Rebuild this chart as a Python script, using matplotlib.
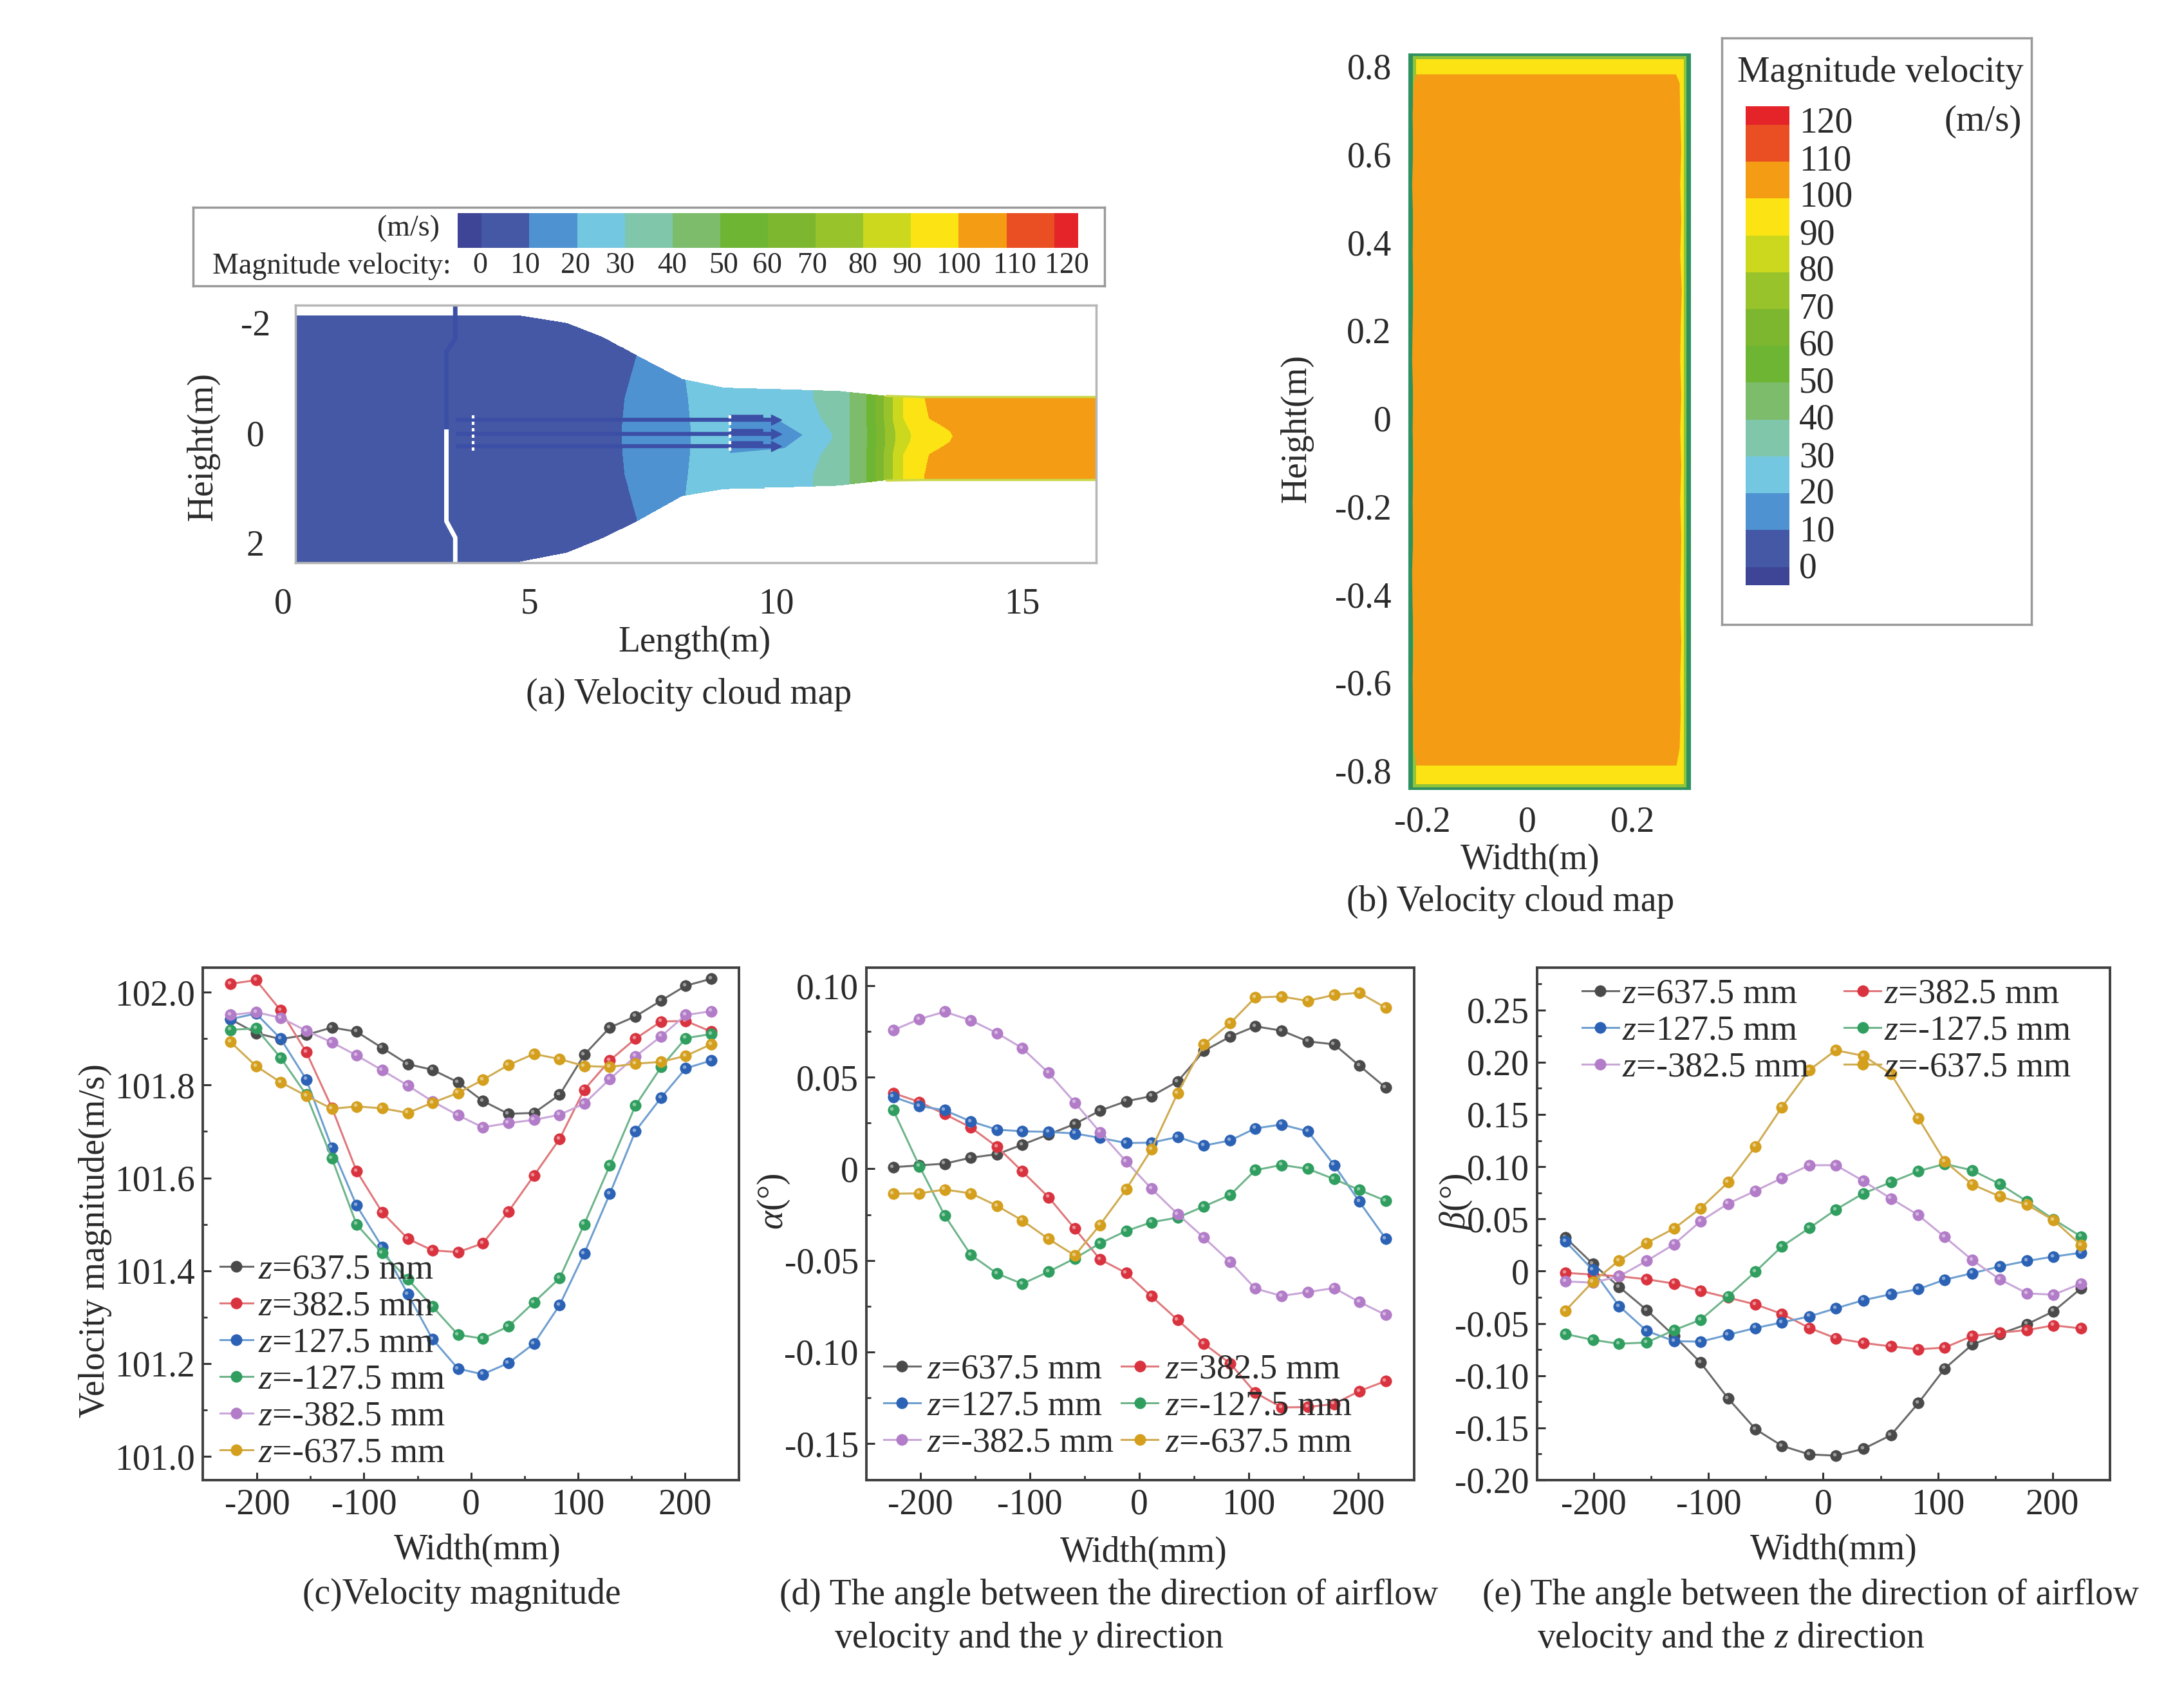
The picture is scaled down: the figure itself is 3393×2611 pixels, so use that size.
import numpy as np
import matplotlib
matplotlib.use('Agg')
import matplotlib.pyplot as plt
import matplotlib.transforms as mtransforms
from matplotlib.colors import ListedColormap

W, H = 3393, 2611
S = W / 1560.0  # layout below was measured on a 1560 wide view

plt.rcParams['font.family'] = ['Liberation Serif', 'DejaVu Serif']
plt.rcParams['mathtext.fontset'] = 'custom'
plt.rcParams['mathtext.rm'] = 'Liberation Serif'
plt.rcParams['mathtext.it'] = 'Liberation Serif:italic'
plt.rcParams['axes.unicode_minus'] = False
TXT = '#2a2a2a'
FS = 40

# ---- data ----
width_mm = [-225, -201, -178, -154, -130, -107, -83, -59, -36, -12,
            11, 35, 59, 83, 106, 130, 154, 178, 201, 225]
z_labels = [r'$\mathit{z}$=637.5 mm', r'$\mathit{z}$=382.5 mm', r'$\mathit{z}$=127.5 mm',
            r'$\mathit{z}$=-127.5 mm', r'$\mathit{z}$=-382.5 mm', r'$\mathit{z}$=-637.5 mm']
line_colors = ['#6b6b6b', '#e0787c', '#6f9fd0', '#6fb58c', '#c9a6d8', '#d0ac52']
dot_colors = ['#4a4a4a', '#d9333f', '#2b62b5', '#2f9e5f', '#b27cc8', '#d49f1c']

vel_z637 = [101.942, 101.912, 101.899, 101.908, 101.924, 101.915, 101.880, 101.845, 101.833, 101.806,
            101.766, 101.738, 101.740, 101.779, 101.865, 101.924, 101.948, 101.982, 102.014, 102.029]
vel_z382 = [102.018, 102.026, 101.961, 101.871, 101.751, 101.615, 101.526, 101.469, 101.444, 101.440,
            101.459, 101.527, 101.605, 101.684, 101.790, 101.853, 101.900, 101.937, 101.938, 101.915]
vel_z127 = [101.942, 101.954, 101.900, 101.812, 101.665, 101.541, 101.451, 101.350, 101.253, 101.189,
            101.177, 101.201, 101.243, 101.326, 101.437, 101.566, 101.701, 101.773, 101.836, 101.853]
vel_zm127 = [101.919, 101.922, 101.859, 101.779, 101.642, 101.500, 101.438, 101.382, 101.323, 101.262,
             101.254, 101.280, 101.332, 101.384, 101.500, 101.627, 101.756, 101.839, 101.901, 101.910]
vel_zm382 = [101.951, 101.957, 101.945, 101.917, 101.892, 101.864, 101.832, 101.799, 101.765, 101.735,
             101.709, 101.718, 101.725, 101.736, 101.760, 101.813, 101.862, 101.905, 101.951, 101.959]
vel_zm637 = [101.893, 101.841, 101.806, 101.777, 101.749, 101.754, 101.750, 101.740, 101.762, 101.783,
             101.811, 101.843, 101.867, 101.856, 101.841, 101.839, 101.846, 101.850, 101.863, 101.888]

alpha_z637 = [0.0009, 0.0019, 0.0028, 0.0061, 0.0080, 0.0132, 0.0188, 0.0245, 0.0318, 0.0369,
              0.0397, 0.0477, 0.0644, 0.0722, 0.0778, 0.0755, 0.0696, 0.0680, 0.0564, 0.0444]
alpha_z382 = [0.0414, 0.0365, 0.0299, 0.0226, 0.0120, -0.0014, -0.0155, -0.0327, -0.0494, -0.0569,
              -0.0696, -0.0825, -0.0955, -0.1063, -0.1223, -0.1303, -0.1301, -0.1284, -0.1214, -0.1159]
alpha_z127 = [0.0393, 0.0343, 0.0320, 0.0259, 0.0214, 0.0205, 0.0202, 0.0193, 0.0169, 0.0141,
              0.0143, 0.0174, 0.0127, 0.0155, 0.0221, 0.0242, 0.0205, 0.0021, -0.0179, -0.0381]
alpha_zm127 = [0.0322, 0.0014, -0.0254, -0.0470, -0.0572, -0.0628, -0.0562, -0.0489, -0.0407, -0.0339,
               -0.0292, -0.0266, -0.0205, -0.0143, -0.0007, 0.0021, 0.0, -0.0056, -0.0115, -0.0174]
alpha_zm382 = [0.0757, 0.0818, 0.0858, 0.0811, 0.0741, 0.0659, 0.0524, 0.0362, 0.0200, 0.0040,
               -0.0108, -0.0247, -0.0376, -0.0508, -0.0654, -0.0694, -0.0673, -0.0651, -0.0727, -0.0797]
alpha_zm637 = [-0.0136, -0.0134, -0.0113, -0.0134, -0.0202, -0.0282, -0.0383, -0.0473, -0.0306, -0.0111,
               0.0106, 0.0414, 0.0680, 0.0795, 0.0936, 0.0941, 0.0917, 0.0950, 0.0962, 0.0880]

beta_z637 = [0.0323, 0.0070, -0.0151, -0.0372, -0.0621, -0.0875, -0.1218, -0.1513, -0.1672, -0.1754,
             -0.1766, -0.1701, -0.1570, -0.1263, -0.0932, -0.0703, -0.0601, -0.0507, -0.0384, -0.0164]
beta_z382 = [-0.0016, -0.0033, -0.0049, -0.0078, -0.0119, -0.0188, -0.0253, -0.0319, -0.0409, -0.0544,
             -0.0642, -0.0687, -0.0720, -0.0748, -0.0732, -0.0621, -0.0589, -0.0564, -0.0519, -0.0548]
beta_z127 = [0.0286, 0.0012, -0.0335, -0.0572, -0.0670, -0.0675, -0.0609, -0.0544, -0.0491, -0.0433,
             -0.0356, -0.0278, -0.0221, -0.0172, -0.0082, -0.0020, 0.0045, 0.0098, 0.0139, 0.0176]
beta_zm127 = [-0.0601, -0.0658, -0.0695, -0.0683, -0.0564, -0.0466, -0.0241, -0.0004, 0.0237, 0.0413,
              0.0589, 0.0744, 0.0850, 0.0957, 0.1026, 0.0965, 0.0834, 0.0666, 0.0495, 0.0331]
beta_zm382 = [-0.0098, -0.0110, -0.0049, 0.0098, 0.0258, 0.0478, 0.0646, 0.0769, 0.0891, 0.1014,
              0.1014, 0.0863, 0.0695, 0.0536, 0.0327, 0.0106, -0.0078, -0.0213, -0.0225, -0.0119]
beta_zm637 = [-0.0380, -0.0102, 0.0102, 0.0270, 0.0409, 0.0601, 0.0850, 0.1194, 0.1570, 0.1926,
              0.2114, 0.2061, 0.1889, 0.1464, 0.1051, 0.0830, 0.0715, 0.0634, 0.0487, 0.0249]

# colour bands, first and last are the half bands at the ends of the bars
band_colors = ['#3f4596', '#4458a5', '#4e92d1', '#74c7e0', '#80c6ab', '#7cbc6a', '#6fb534',
               '#7cb72f', '#98c32b', '#cbd81e', '#fce414', '#f39c14', '#e94f22', '#e5242a']
band_edges = [-5, 0, 10, 20, 30, 40, 50, 60, 70, 80, 90, 100, 110, 120, 125]
band_ticks = [0, 10, 20, 30, 40, 50, 60, 70, 80, 90, 100, 110, 120]

# nozzle outline of panel (a)
nozzle_x = [0.245, 4.78, 5.76, 6.50, 7.23, 8.09, 8.95, 10.17, 11.27, 12.25, 12.99, 16.5]
nozzle_top = [-2.21, -2.21, -2.07, -1.81, -1.45, -1.05, -0.89, -0.86, -0.83, -0.74, -0.72, -0.72]
nozzle_bot = [2.29, 2.28, 2.11, 1.84, 1.51, 1.08, 0.95, 0.93, 0.90, 0.80, 0.79, 0.79]

# where each velocity level sits along the length, at these heights
front_y = [-1.5, -0.7, -0.33, -0.1, 0, 0.1, 0.33, 0.7, 1.5]
fronts = [
    [7.17, 6.92, 6.88, 6.86, 6.86, 6.86, 6.88, 6.92, 7.17],
    [8.09, 8.21, 8.25, 8.27, 8.27, 8.27, 8.25, 8.21, 8.09],
    [10.75, 10.75, 10.91, 11.10, 11.15, 11.10, 10.91, 10.75, 10.75],
    [11.50, 11.50, 11.50, 11.50, 11.50, 11.50, 11.50, 11.50, 11.50],
    [11.83, 11.83, 11.83, 11.85, 11.85, 11.85, 11.83, 11.83, 11.83],
    [12.02, 12.02, 12.02, 12.05, 12.05, 12.05, 12.02, 12.02, 12.02],
    [12.19, 12.19, 12.19, 12.22, 12.22, 12.22, 12.19, 12.19, 12.19],
    [12.37, 12.37, 12.37, 12.42, 12.42, 12.42, 12.37, 12.37, 12.37],
    [12.59, 12.59, 12.59, 12.72, 12.75, 12.72, 12.59, 12.59, 12.59],
    [13.02, 13.02, 13.11, 13.52, 13.58, 13.52, 13.11, 13.02, 13.02],
]
wake_x = [9.07, 9.99, 10.54, 10.17, 9.07]
wake_y = [-0.39, -0.33, -0.03, 0.21, 0.30]
jet_y = [-0.30, -0.05, 0.18]
strut_dark_x = [3.49, 3.49, 3.31, 3.31]
strut_dark_y = [-2.39, -1.78, -1.54, -0.09]
strut_white_x = [3.31, 3.31, 3.49, 3.49]
strut_white_y = [-0.09, 1.54, 1.84, 2.29]

# wobbly edge of the orange core in panel (b)
core_y = [0.79, 0.77, 0.70, 0.62, 0.54, 0.46, 0.38, 0.30, 0.22, 0.14, 0.06, -0.02, -0.10, -0.18,
          -0.26, -0.34, -0.42, -0.50, -0.58, -0.66, -0.74, -0.78]
core_left = [-0.213, -0.217, -0.219, -0.218, -0.220, -0.218, -0.219, -0.217, -0.219, -0.220, -0.218, -0.219,
             -0.217, -0.219, -0.218, -0.220, -0.219, -0.217, -0.219, -0.218, -0.217, -0.212]
core_right = [0.283, 0.290, 0.291, 0.293, 0.291, 0.293, 0.291, 0.294, 0.292, 0.291, 0.293, 0.291,
              0.293, 0.291, 0.293, 0.292, 0.291, 0.293, 0.291, 0.292, 0.290, 0.284]

fig = plt.figure(figsize=(W / 100, H / 100), dpi=100, facecolor='white')


def axes_at(left, top, right, bottom):
    # position given in the 1560 wide view, top-down
    return fig.add_axes([left * S / W, 1 - bottom * S / H, (right - left) * S / W, (bottom - top) * S / H])


def put(x, y, s, **kw):
    kw.setdefault('fontsize', FS)
    kw.setdefault('color', TXT)
    kw.setdefault('ha', 'center')
    kw.setdefault('va', 'center')
    return fig.text(x * S / W, 1 - y * S / H, s, **kw)


# ---- (a) ----
ax = axes_at(211, 218, 783, 402)
xg = np.linspace(0.245, 16.5, 1240)
yg = np.linspace(-2.39, 2.30, 400)
X, Y = np.meshgrid(xg, yg)
field = np.zeros_like(X)
for fr in fronts:
    field += X > np.interp(Y, front_y, fr)
inside = (Y > np.interp(X, nozzle_x, nozzle_top)) & (Y < np.interp(X, nozzle_x, nozzle_bot))
field = np.ma.masked_where(~inside, field)
ax.pcolormesh(X, Y, field, cmap=ListedColormap(band_colors[1:12]), vmin=-0.5, vmax=10.5, shading='auto')
ax.fill(wake_x, wake_y, color=band_colors[2], lw=0)
for jy in jet_y:
    ax.plot([3.5, 9.99], [jy, jy], color='#3c4fa6', lw=4.5, solid_capstyle='butt')
    ax.plot([10.0], [jy], marker='>', ms=11, color='#3c4fa6')
    ax.plot([9.1, 9.7], [jy - 0.06, jy - 0.06], color='#3c4fa6', lw=4)
ax.plot(strut_dark_x, strut_dark_y, color='#3c4fa6', lw=5)
ax.plot(strut_white_x, strut_white_y, color='white', lw=5)
ax.plot([3.85, 3.85], [-0.39, 0.28], color='white', lw=3, ls=(0, (1.2, 1.2)))
ax.plot([9.07, 9.07], [-0.39, 0.30], color='white', lw=3, ls=(0, (1.2, 1.2)))
ax.plot(nozzle_x[-3:], nozzle_top[-3:], color='#c9d84a', lw=2.5)
ax.plot(nozzle_x[-3:], nozzle_bot[-3:], color='#c9d84a', lw=2.5)
ax.set_xlim(0.245, 16.5)
ax.set_ylim(2.30, -2.39)
ax.set_xticks([])
ax.set_yticks([])
for sp in ax.spines.values():
    sp.set_color('#b5b5b5')
    sp.set_linewidth(2.5)
for xv, lab in zip([0, 5, 10, 15], ['0', '5', '10', '15']):
    ax.text(xv, -0.16, lab, transform=ax.get_xaxis_transform(), ha='center', va='center', fontsize=FS, color=TXT)
for yv, lab in zip([-2, 0, 2], ['-2', '0', '2']):
    ax.text(-0.05, yv, lab, transform=ax.get_yaxis_transform(), ha='center', va='center', fontsize=FS, color=TXT)
put(145, 319, 'Height(m)', rotation=90)
put(496, 459, 'Length(m)')
put(492, 496, '(a) Velocity cloud map')

# legend box of (a)
box = axes_at(138, 148, 789, 204)
box.set_xticks([])
box.set_yticks([])
for sp in box.spines.values():
    sp.set_color('#9a9a9a')
    sp.set_linewidth(2.5)
cb = axes_at(327, 152, 770, 177)
cb.bar(band_edges[:-1], [1] * 14, width=np.diff(band_edges), align='edge', color=band_colors)
cb.set_xlim(-5, 125)
cb.set_ylim(0, 1)
cb.axis('off')
put(314, 163, '(m/s)', fontsize=33, ha='right')
put(322, 190, 'Magnitude velocity:', fontsize=33, ha='right')
for v, xp in zip(band_ticks, [343, 375, 411, 443, 480, 517, 548, 580, 616, 648, 685, 725, 762]):
    put(xp, 190, str(v), fontsize=33)

# ---- (b) ----
ax = axes_at(1006, 38, 1208, 564)
ax.set_xlim(-0.227, 0.312)
ax.set_ylim(-0.835, 0.838)
ax.set_facecolor('#2f9060')
layers = [(0.0085, 0.006, '#8fc33a'), (0.0145, 0.013, '#fce414')]
for dx, dy, col in layers:
    ax.fill([-0.227 + dx, 0.312 - dx, 0.312 - dx, -0.227 + dx],
            [-0.835 + dy, -0.835 + dy, 0.838 - dy, 0.838 - dy], color=col, lw=0)
ax.fill(core_left + core_right[::-1], core_y + core_y[::-1], color=band_colors[11], lw=0)
ax.set_xticks([])
ax.set_yticks([])
for sp in ax.spines.values():
    sp.set_visible(False)
for yv, lab in zip([0.8, 0.6, 0.4, 0.2, 0, -0.2, -0.4, -0.6, -0.8],
                   ['0.8', '0.6', '0.4', '0.2', '0', '-0.2', '-0.4', '-0.6', '-0.8']):
    ax.text(-0.06, yv, lab, transform=ax.get_yaxis_transform(), ha='right', va='center', fontsize=FS, color=TXT)
for xv, lab in zip([-0.2, 0, 0.2], ['-0.2', '0', '0.2']):
    ax.text(xv, -0.044, lab, transform=ax.get_xaxis_transform(), ha='center', va='center', fontsize=FS, color=TXT)
put(926, 306, 'Height(m)', rotation=90)
put(1093, 614, 'Width(m)')
put(1079, 644, '(b) Velocity cloud map')

box = axes_at(1230, 27, 1451, 446)
box.set_xticks([])
box.set_yticks([])
for sp in box.spines.values():
    sp.set_color('#9a9a9a')
    sp.set_linewidth(2.5)
cb = axes_at(1247, 76, 1278, 418)
cb.bar(0, np.diff(band_edges), width=1, bottom=band_edges[:-1], color=band_colors)
cb.set_ylim(-5, 125)
cb.set_xlim(-0.5, 0.5)
cb.axis('off')
put(1343, 52, 'Magnitude velocity', fontsize=41)
put(1444, 87, '(m/s)', fontsize=41, ha='right')
for v, yp in zip(band_ticks[::-1], [88, 115, 141, 168, 194, 221, 247, 274, 300, 327, 353, 380, 406]):
    put(1285, yp, str(v), ha='left')


# ---- line panels ----
def line_panel(rect, series, xlim, ylim, yticks, yticklabels, yminor):
    ax = axes_at(*rect)
    glint = mtransforms.offset_copy(ax.transData, fig=fig, x=-1.6, y=1.6, units='points')
    handles = []
    for vals, lc, dc, lab in zip(series, line_colors, dot_colors, z_labels):
        h, = ax.plot(width_mm, vals, color=lc, lw=2.2, marker='o', ms=12.5, mfc=dc, mec=dc, mew=0.5, label=lab)
        ax.plot(width_mm, vals, ls='none', marker='o', ms=4, mfc='white', mec='none', alpha=0.45, transform=glint)
        handles.append(h)
    ax.set_xlim(*xlim)
    ax.set_ylim(*ylim)
    ax.set_xticks([-200, -100, 0, 100, 200])
    ax.set_xticklabels(['-200', '-100', '0', '100', '200'])
    ax.set_xticks([-150, -50, 50, 150], minor=True)
    ax.set_yticks(yticks)
    ax.set_yticklabels(yticklabels)
    ax.set_yticks(yminor, minor=True)
    ax.tick_params(which='major', direction='in', length=9, width=2.2, color='#333333',
                   labelsize=FS, labelcolor=TXT, pad=9, top=False, right=False)
    ax.tick_params(which='minor', direction='in', length=5, width=2, color='#333333', top=False, right=False)
    for sp in ax.spines.values():
        sp.set_color('#404040')
        sp.set_linewidth(2.8)
    return ax, handles


series_c = [vel_z637, vel_z382, vel_z127, vel_zm127, vel_zm382, vel_zm637]
series_d = [alpha_z637, alpha_z382, alpha_z127, alpha_zm127, alpha_zm382, alpha_zm637]
series_e = [beta_z637, beta_z382, beta_z127, beta_zm127, beta_zm382, beta_zm637]
col_order = [0, 2, 4, 1, 3, 5]

ax, hs = line_panel((145, 691, 528, 1057), series_c, (-250.6, 251), (100.949, 102.053),
                    [101.0, 101.2, 101.4, 101.6, 101.8, 102.0],
                    ['101.0', '101.2', '101.4', '101.6', '101.8', '102.0'],
                    [101.1, 101.3, 101.5, 101.7, 101.9])
ax.legend(handles=hs, loc='lower left', bbox_to_anchor=(0.012, 0.0), frameon=False, fontsize=39, labelcolor=TXT,
          handlelength=0.95, handletextpad=0.15, labelspacing=0.12, borderpad=0.1, borderaxespad=0.2)
put(68, 886, 'Velocity magnitude(m/s)', rotation=90)
put(341, 1107, 'Width(mm)')
put(330, 1139, '(c)Velocity magnitude')

ax, hs = line_panel((619, 691, 1010, 1057), series_d, (-249.3, 251), (-0.170, 0.1099),
                    [-0.15, -0.10, -0.05, 0, 0.05, 0.10],
                    ['-0.15', '-0.10', '-0.05', '0', '0.05', '0.10'],
                    [-0.125, -0.075, -0.025, 0.025, 0.075])
ax.legend(handles=[hs[i] for i in col_order], loc='lower left', bbox_to_anchor=(0.012, 0.02), frameon=False,
          fontsize=39, labelcolor=TXT, ncol=2, handlelength=1.05, handletextpad=0.2, labelspacing=0.12,
          columnspacing=0.2, borderpad=0.1, borderaxespad=0.2)
put(553, 858, r'$\mathit{\alpha}$(°)', rotation=90)
put(817, 1109, 'Width(mm)')
put(557, 1139, '(d) The angle between the direction of airflow', ha='left')
put(596, 1170, r'velocity and the $\mathit{y}$ direction', ha='left')

ax, hs = line_panel((1098, 691, 1507, 1057), series_e, (-249.5, 250), (-0.20, 0.2905),
                    [-0.20, -0.15, -0.10, -0.05, 0, 0.05, 0.10, 0.15, 0.20, 0.25],
                    ['-0.20', '-0.15', '-0.10', '-0.05', '0', '0.05', '0.10', '0.15', '0.20', '0.25'],
                    [-0.175, -0.125, -0.075, -0.025, 0.025, 0.075, 0.125, 0.175, 0.225, 0.275])
ax.legend(handles=[hs[i] for i in col_order], loc='upper left', bbox_to_anchor=(0.06, 1.0), frameon=False,
          fontsize=39, labelcolor=TXT, ncol=2, handlelength=1.05, handletextpad=0.1, labelspacing=0.12,
          columnspacing=1.0, borderpad=0.1, borderaxespad=0.2)
put(1040, 858, r'$\mathit{\beta}$(°)', rotation=90)
put(1310, 1107, 'Width(mm)')
put(1059, 1139, '(e) The angle between the direction of airflow', ha='left')
put(1098, 1170, r'velocity and the $\mathit{z}$ direction', ha='left')

fig.savefig('out.png', dpi=100)
